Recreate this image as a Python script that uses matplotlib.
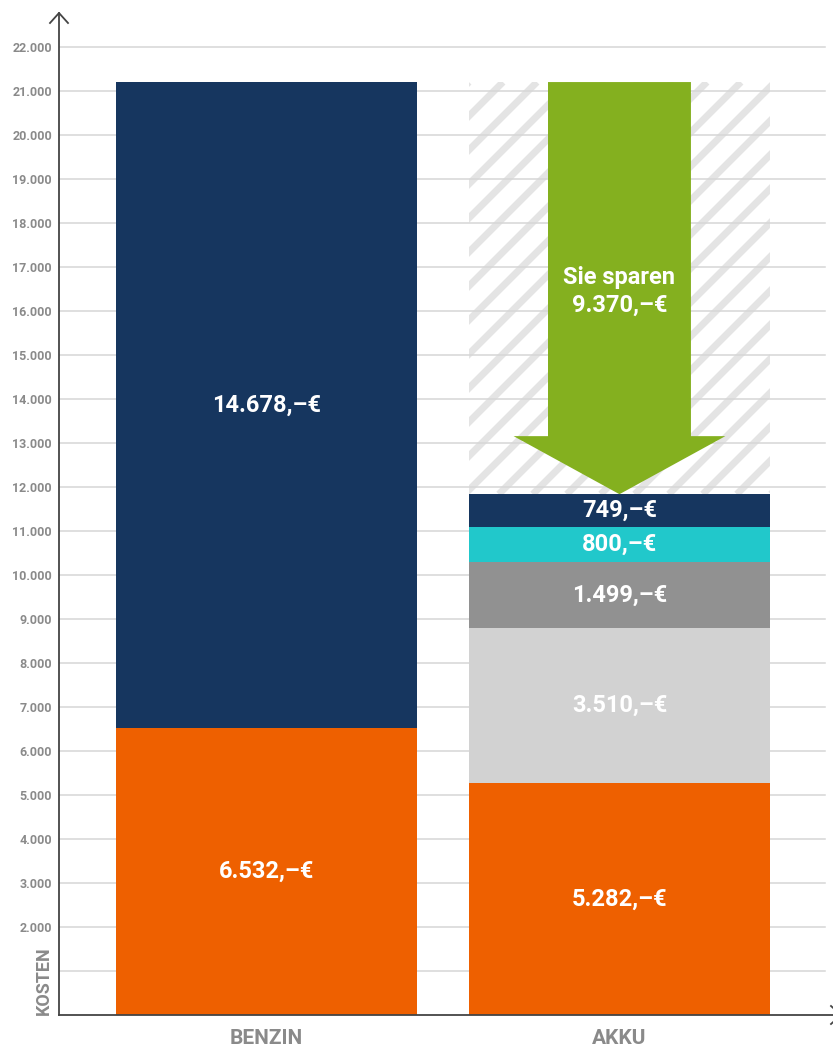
import matplotlib
matplotlib.use("Agg")
import matplotlib.pyplot as plt
from matplotlib.patches import Rectangle, Polygon
from matplotlib.collections import LineCollection
from matplotlib.transforms import IdentityTransform

plt.rcParams['font.family'] = ['Roboto', 'DejaVu Sans']

# --- data -------------------------------------------------------------
categories = ["BENZIN", "AKKU"]
benzin_values = [6532, 14678]                  # bottom -> top
akku_values = [5282, 3510, 1499, 800, 749]     # bottom -> top
benzin_colors = ["#ee6000", "#16365f"]
akku_colors = ["#ee6000", "#d2d2d2", "#919191", "#21c8cb", "#16365f"]
savings_label = "Sie sparen\n9.370,\u2013€"
yticks = list(range(1000, 22001, 1000))
ylabel = "KOSTEN"


def euro(v):
    return f"{v:,}".replace(",", ".") + ",\u2013€"


W, H = 833, 1048
fig = plt.figure(figsize=(W / 100, H / 100), dpi=100)
ax = fig.add_axes([59 / W, 1 - 1015 / H, (W - 59) / W, (1015 - 13) / H])
ax.set_xlim(-0.588, 1.605)
ax.set_ylim(0, 22780)

bar_w = 0.853
label_color = "#8a8a8a"

# gridlines
for t in yticks:
    ax.axhline(t, xmin=0, xmax=0.9897, color="#d6d6d6", lw=1.1, zorder=1)

benzin_total = sum(benzin_values)
akku_total = sum(akku_values)

# striped "savings" zone above the AKKU stack
zone = Rectangle((1 - bar_w / 2, akku_total), bar_w, benzin_total - akku_total,
                 facecolor="white", edgecolor="none", zorder=0.5)
ax.add_patch(zone)
fig.canvas.draw()
(x0, y0) = ax.transData.transform((1 - bar_w / 2, akku_total))
(x1, y1) = ax.transData.transform((1 + bar_w / 2, benzin_total))
pitch = 34
segs = []
h = y1 - y0
start = x0 - h - pitch
while start < x1 + pitch:
    segs.append([(start, y0), (start + h, y1)])
    start += pitch
stripes = LineCollection(segs, colors="#e4e4e4", linewidths=5.0,
                         transform=IdentityTransform(), zorder=0.6)
ax.add_collection(stripes)
stripes.set_clip_path(zone)

# stacked bars
def stack(x, values, colors):
    bottom = 0
    for v, c in zip(values, colors):
        ax.bar(x, v, bottom=bottom, width=bar_w, color=c, zorder=3,
               linewidth=0)
        ax.text(x, bottom + v / 2, euro(v), ha="center", va="center",
                color="white", fontsize=17, fontweight="bold", zorder=5)
        bottom += v

stack(0, benzin_values, benzin_colors)
stack(1, akku_values, akku_colors)

# savings arrow from the BENZIN total down to the AKKU total
shaft = 0.2025
head = 0.30
head_len = 1320
arrow = Polygon([(1 - shaft, benzin_total), (1 + shaft, benzin_total),
                 (1 + shaft, akku_total + head_len), (1 + head, akku_total + head_len),
                 (1, akku_total), (1 - head, akku_total + head_len),
                 (1 - shaft, akku_total + head_len)],
                closed=True, facecolor="#84b01f", edgecolor="none", zorder=4)
ax.add_patch(arrow)
ax.text(1, 16450, savings_label, ha="center", va="center", color="white",
        fontsize=17, fontweight="bold", linespacing=1.3, zorder=5)

# axes styling
for s in ["top", "right"]:
    ax.spines[s].set_visible(False)
for s in ["left", "bottom"]:
    ax.spines[s].set_color("#444444")
    ax.spines[s].set_linewidth(1.3)
    ax.spines[s].set_zorder(6)

ax.set_yticks(yticks)
# the lowest tick stays unlabelled; the axis title sits there
ax.set_yticklabels([""] + [f"{t:,}".replace(",", ".") for t in yticks[1:]])
ax.tick_params(axis="y", length=0, pad=5, labelsize=9, labelcolor=label_color)
for lbl in ax.get_yticklabels():
    lbl.set_fontweight("bold")
ax.set_xticks([0, 1])
ax.set_xticklabels(categories)
ax.tick_params(axis="x", length=0, pad=10, labelsize=15, labelcolor=label_color)
for lbl in ax.get_xticklabels():
    lbl.set_fontweight("bold")

fig.text(44 / W, 1 - 1015 / H, ylabel, rotation=90, ha="center", va="bottom",
         color=label_color, fontsize=13, fontweight="bold")

# axis arrow heads
tx, ty = ax.transAxes.transform((0, 1))
ax.add_line(plt.Line2D([tx - 9, tx, tx + 9], [ty - 10, ty, ty - 10],
                       transform=IdentityTransform(), color="#444444",
                       lw=1.3, clip_on=False))
bx, by = ax.transAxes.transform((1, 0))
ax.add_line(plt.Line2D([bx - 2, bx + 8, bx - 2], [by + 9, by, by - 9],
                       transform=IdentityTransform(), color="#444444",
                       lw=1.3, clip_on=False))

fig.savefig("out.png", dpi=100)
